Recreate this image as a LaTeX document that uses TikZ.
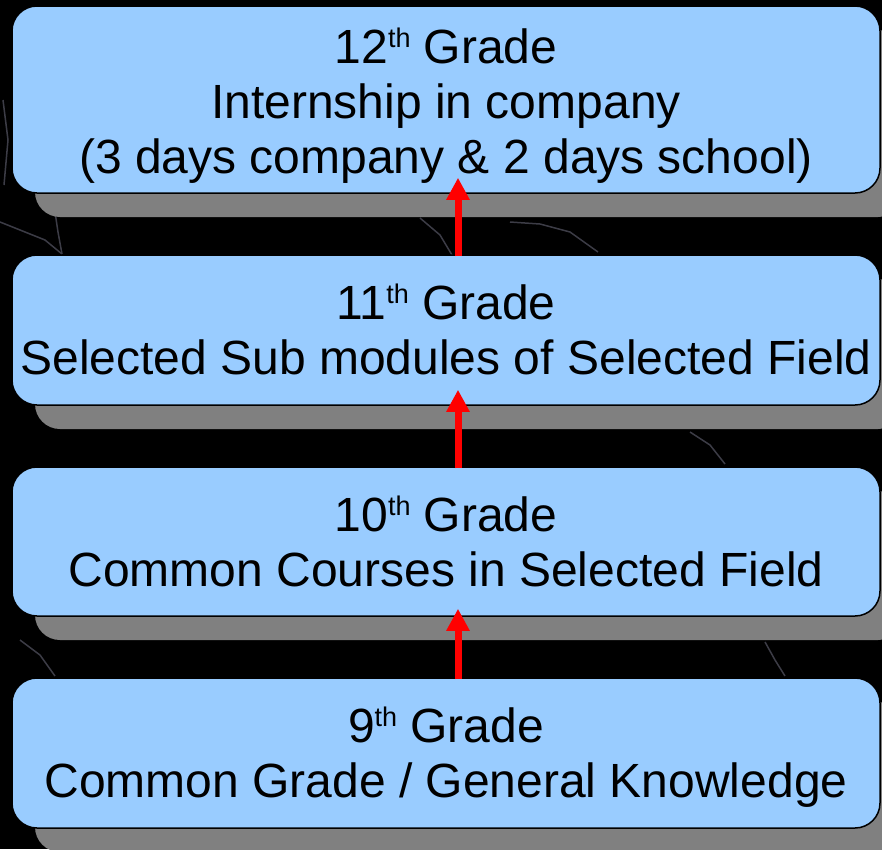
\documentclass[tikz,border=0pt]{standalone}
\usepackage{fontspec}
\setmainfont{Liberation Sans}
\usetikzlibrary{arrows.meta,shadows}
\definecolor{boxblue}{HTML}{99CCFF}
\definecolor{crackgray}{HTML}{3C3C46}
\newcommand{\ord}[1]{\raisebox{16pt}[0pt][0pt]{\fontsize{27}{27}\selectfont #1}}
\begin{document}
\begin{tikzpicture}[x=1pt,y=-1pt,
  gradebox/.style={draw=black, line width=1.5pt, fill=boxblue, rounded corners=25pt,
    minimum width=868pt, inner sep=0pt, align=center, font=\fontsize{48}{55}\selectfont,
    drop shadow={shadow xshift=23pt, shadow yshift=-24pt, fill=gray, opacity=1}},
  uparrow/.style={draw=red, line width=7pt, -{Triangle[width=22pt,length=22pt]}},
  crack/.style={draw=crackgray, line width=1.5pt}]
\fill[black] (0,0) rectangle (882,849);
\useasboundingbox (0,0) rectangle (882,849);
% faint cracks in the background
\draw[crack] (0,222) -- (25,232) -- (45,240) -- (62,254);
\draw[crack] (55,212) -- (58,232) -- (62,254);
\draw[crack] (420,218) -- (440,235) -- (452,255);
\draw[crack] (510,222) -- (540,224) -- (570,232) -- (598,252);
\draw[crack] (690,432) -- (710,445) -- (725,464);
\draw[crack] (20,640) -- (40,655) -- (55,676);
\draw[crack] (765,642) -- (775,660) -- (785,676);
\draw[crack] (3,100) -- (8,140) -- (4,185);

\node (twelfth) [gradebox, minimum height=187pt] at (446,99.5)
  {\rule{0pt}{48pt}12\ord{th} Grade\\Internship in company\\(3 days company \& 2 days school)};
\node (eleventh) [gradebox, minimum height=150pt] at (446,330)
  {11\ord{th} Grade\\Selected Sub modules of Selected Field};
\node (tenth) [gradebox, minimum height=149pt] at (446,541.5)
  {10\ord{th} Grade\\Common Courses in Selected Field};
\node (ninth) [gradebox, minimum height=150pt] at (446,753)
  {\rule{0pt}{44pt}9\ord{th} Grade\\Common Grade / General Knowledge};

\draw [uparrow] ([xshift=12pt,yshift=-2pt]eleventh.north) -- ([xshift=12pt,yshift=16pt]twelfth.south);
\draw [uparrow] ([xshift=12pt,yshift=-2pt]tenth.north) -- ([xshift=12pt,yshift=16pt]eleventh.south);
\draw [uparrow] ([xshift=12pt,yshift=-2pt]ninth.north) -- ([xshift=12pt,yshift=8pt]tenth.south);
\end{tikzpicture}
\end{document}
